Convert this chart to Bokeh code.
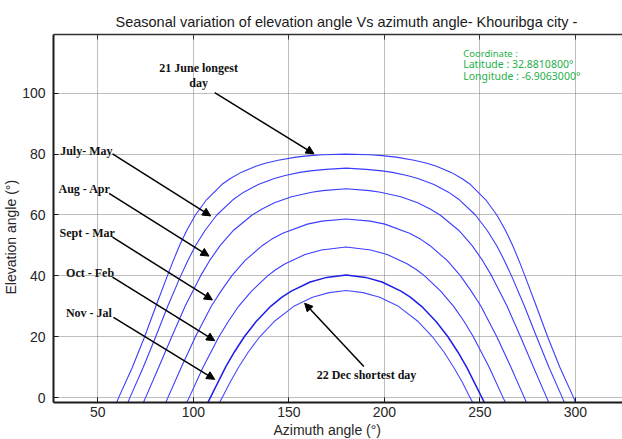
from bokeh.plotting import figure
from bokeh.models import Range1d, FixedTicker, LinearAxis, Label, Arrow, NormalHead, Title
from bokeh.embed import file_html
from bokeh.resources import INLINE

# Sun paths over Khouribga: azimuth (deg) vs elevation (deg) for representative days
june_az = [59.6, 60.9, 68.1, 74.5, 80.4, 86.4, 89.5, 92.8, 96.6, 101.1, 106.9, 114.9, 119.4, 125.0,
           132.7, 137.7, 144.4, 153.8, 161.1, 167.6, 180.0,
           192.4, 198.9, 206.2, 215.6, 222.3, 227.3, 235.0, 240.6, 245.1, 253.1, 258.9, 263.4,
           267.2, 270.5, 273.6, 279.6, 285.5, 291.9, 299.1, 300.4]
june_el = [-2, 0, 10, 20, 30, 40, 45, 50, 55, 60, 65, 70, 72, 74,
           76, 77, 78, 79, 79.5, 79.8, 80,
           79.8, 79.5, 79, 78, 77, 76, 74, 72, 70, 65, 60, 55,
           50, 45, 40, 30, 20, 10, 0, -2]

jul_may_az = [65.5, 66.8, 73.8, 80.3, 86.6, 93.4, 97.1, 101.2, 106.2, 112.3, 120.7, 126.4, 134.0,
              142.4, 148.1, 155.8, 161.2, 169.5, 180.0,
              190.5, 198.8, 204.2, 211.9, 217.6, 226.0, 233.6, 239.3, 247.7, 253.8, 258.8,
              262.9, 266.6, 273.4, 279.7, 286.2, 293.2, 294.5]
jul_may_el = [-2, 0, 10, 20, 30, 40, 45, 50, 55, 60, 65, 67.5, 70,
              72, 73, 74, 74.5, 75, 75.4,
              75, 74.5, 74, 73, 72, 70, 67.5, 65, 60, 55, 50,
              45, 40, 30, 20, 10, 0, -2]

aug_apr_az = [73.6, 75.0, 81.9, 88.7, 95.7, 103.8, 108.5, 114.1, 121.1, 130.8, 136.0, 142.5,
              151.4, 162.0, 167.8, 180.0,
              192.2, 198.0, 208.6, 217.5, 224.0, 229.2, 238.9, 245.9, 251.5, 256.2,
              264.3, 271.3, 278.1, 285.0, 286.4]
aug_apr_el = [-2, 0, 10, 20, 30, 40, 45, 50, 55, 60, 62, 64,
              66, 67.5, 68, 68.6,
              68, 67.5, 66, 64, 62, 60, 55, 50, 45, 40,
              30, 20, 10, 0, -2]

sep_mar_az = [85.3, 86.7, 93.7, 101.1, 109.4, 114.5, 120.1, 127.0, 136.2, 140.9, 146.8, 159.7,
              167.4, 180.0,
              192.6, 200.3, 213.2, 219.1, 223.8, 233.0, 239.9, 245.5, 250.6, 258.9, 266.3,
              273.3, 274.7]
sep_mar_el = [-2, 0, 10, 20, 30, 35, 40, 45, 50, 52, 54, 57,
              58, 58.7,
              58, 57, 54, 52, 50, 45, 40, 35, 30, 20, 10,
              0, -2]

oct_feb_az = [96.3, 97.8, 105.1, 113.4, 118.3, 123.7, 130.5, 138.9, 143.1, 148.1, 158.5, 167.1,
              180.0,
              192.9, 201.5, 211.9, 216.9, 221.1, 229.5, 236.3, 241.8, 246.6, 254.9, 262.2, 263.7]
oct_feb_el = [-2, 0, 10, 20, 25, 30, 35, 40, 42, 44, 47, 48.5,
              49.5,
              48.5, 47, 44, 42, 40, 35, 30, 25, 20, 10, 0, -2]

nov_jan_az = [107.3, 108.9, 116.9, 121.5, 126.7, 132.9, 140.5, 146.4, 151.3, 161.2, 169.8, 180.0,
              190.2, 198.8, 208.7, 213.6, 219.5, 227.1, 233.3, 238.5, 243.1, 251.1, 252.7]
nov_jan_el = [-2, 0, 10, 15, 20, 25, 30, 33, 35, 38, 39.5, 40.3,
              39.5, 38, 35, 33, 30, 25, 20, 15, 10, 0, -2]

dec_az = [113.4, 115.1, 119.2, 123.7, 128.8, 134.8, 142.3, 152.6, 162.4, 171.1, 180.0,
          188.9, 197.6, 207.4, 217.7, 225.2, 231.2, 236.3, 240.9, 244.9, 246.6]
dec_el = [-2, 0, 5, 10, 15, 20, 25, 30, 33, 34.5, 35.2,
          34.5, 33, 30, 25, 20, 15, 10, 5, 0, -2]

x_ticks = [50, 100, 150, 200, 250, 300]
y_ticks = [0, 20, 40, 60, 80, 100]

# (text, x, y) for the bold callouts, anchored at their left edge
callouts = [
    ("July- May", 30.3, 81.0),
    ("Aug - Apr", 29.4, 68.5),
    ("Sept - Mar", 30.0, 54.0),
    ("Oct - Feb", 33.4, 40.9),
    ("Nov - Jal", 33.3, 27.9),
    ("22 Dec shortest day", 164.6, 7.5),
]
# (x_start, y_start, x_end, y_end) of the pointer arrows
pointers = [
    (111.2, 100.2, 163.2, 80.1),
    (57.7, 80.1, 109.1, 59.7),
    (55.9, 67.1, 108.2, 46.5),
    (57.7, 52.7, 110.0, 32.1),
    (57.7, 39.6, 111.2, 18.7),
    (58.2, 26.4, 111.2, 6.0),
    (189.3, 10.2, 158.3, 31.0),
]

p = figure(width=622, height=439, output_backend="svg", toolbar_location=None,
           x_range=Range1d(26.8, 324.7), y_range=Range1d(-1.6, 119.3),
           min_border_left=53, min_border_right=0, min_border_top=34, min_border_bottom=37,
           title="Seasonal variation of elevation angle Vs azimuth angle- Khouribga city -")
p.outline_line_color = None
p.background_fill_color = "white"
p.border_fill_color = "white"

p.title.align = "left"
p.title.offset = 62
p.title.text_font = "Liberation Sans"
p.title.text_font_size = "14.5px"
p.title.text_font_style = "normal"
p.title.text_color = "#1a1a1a"

for ax in (p.xaxis[0], p.yaxis[0]):
    ax.major_label_text_font = "Liberation Sans"
    ax.major_label_text_font_size = "14px"
    ax.major_label_text_color = "#262626"
    ax.axis_line_width = 2
    ax.axis_line_color = "#1a1a1a"
    ax.major_tick_in = 5
    ax.major_tick_out = 0
    ax.major_tick_line_color = "#1a1a1a"
    ax.minor_tick_line_color = None

p.xaxis.ticker = FixedTicker(ticks=x_ticks)
p.yaxis.ticker = FixedTicker(ticks=y_ticks)
p.xaxis.major_label_standoff = 4
p.yaxis.major_label_standoff = 8

# axis titles, placed in the side panels next to the tick labels
axis_title = dict(text_font="Liberation Sans", text_font_size="14px", text_color="#262626",
                  text_font_style="normal", align="left", standoff=1)
p.add_layout(Title(text="Azimuth angle (°)", offset=220, **axis_title), "below")
p.add_layout(Title(text="Elevation angle (°)", offset=108, **axis_title), "left")

# top border of the box, ticks pointing inward, no labels
top = LinearAxis(ticker=FixedTicker(ticks=x_ticks), major_label_text_font_size="1px",
                 major_label_text_color=None,
                 major_label_standoff=0, major_tick_in=5, major_tick_out=0,
                 axis_line_width=1.5, axis_line_color="#333333",
                 major_tick_line_color="#333333", minor_tick_line_color=None)
p.add_layout(top, "above")

for g in (p.xgrid[0], p.ygrid[0]):
    g.grid_line_color = "#707070"
    g.grid_line_dash = "1 1"
    g.grid_line_width = 1
    g.grid_line_alpha = 0.9
p.xgrid.ticker = FixedTicker(ticks=x_ticks)
p.ygrid.ticker = FixedTicker(ticks=y_ticks)

paths = [
    (june_az, june_el, 1.1, "#3c3cff"),
    (jul_may_az, jul_may_el, 1.1, "#3c3cff"),
    (aug_apr_az, aug_apr_el, 1.1, "#3c3cff"),
    (sep_mar_az, sep_mar_el, 1.1, "#3c3cff"),
    (oct_feb_az, oct_feb_el, 1.1, "#3c3cff"),
    (nov_jan_az, nov_jan_el, 1.5, "#1e1ee8"),
    (dec_az, dec_el, 1.1, "#4a4aff"),
]
for az, el, w, c in paths:
    p.line(az, el, line_width=w, line_color=c)

for xs, ys, xe, ye in pointers:
    p.add_layout(Arrow(end=NormalHead(size=8, fill_color="black", line_color="black"),
                       x_start=xs, y_start=ys, x_end=xe, y_end=ye,
                       line_color="black", line_width=1.5))

serif = dict(text_font="Liberation Serif", text_font_size="12px", text_font_style="bold",
             text_color="#111111", text_baseline="middle")
for txt, x, y in callouts:
    p.add_layout(Label(x=x, y=y, text=txt, text_align="left", **serif))
p.add_layout(Label(x=102.8, y=108.2, text="21 June longest", text_align="center", **serif))
p.add_layout(Label(x=102.8, y=103.4, text="day", text_align="center", **serif))

green = "#1fb04a"
p.add_layout(Label(x=241.3, y=113.2, text="Coordinate :", text_font="Noto Sans",
                   text_font_size="9.5px", text_color=green, text_baseline="middle"))
p.add_layout(Label(x=241.3, y=109.5, text="Latitude : 32.8810800°", text_font="Noto Sans",
                   text_font_size="10.5px", text_color=green, text_baseline="middle"))
p.add_layout(Label(x=241.3, y=105.7, text="Longitude : -6.9063000°", text_font="Noto Sans",
                   text_font_size="10.5px", text_color=green, text_baseline="middle"))

open("out.html", "w").write(file_html(p, INLINE))
